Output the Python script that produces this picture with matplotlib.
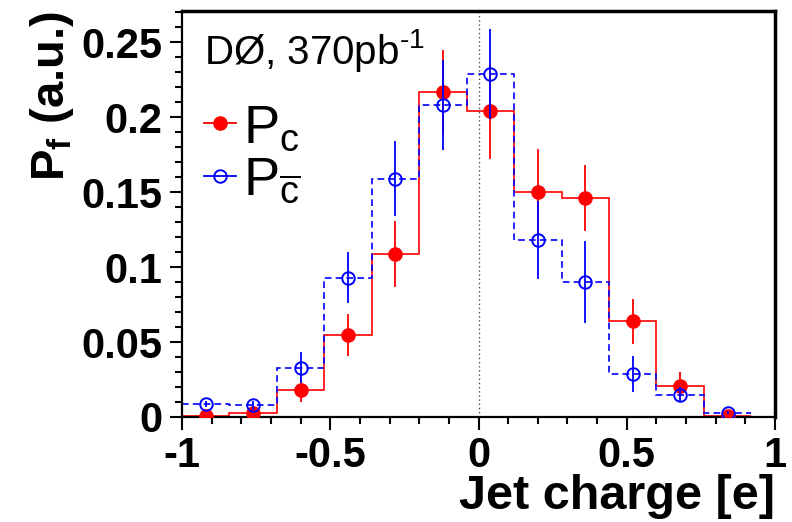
import numpy as np
import matplotlib
matplotlib.use("Agg")
import matplotlib.pyplot as plt
from matplotlib.lines import Line2D
from matplotlib.ticker import MultipleLocator

plt.rcParams["font.family"] = ["Liberation Sans", "DejaVu Sans"]
plt.rcParams["mathtext.fontset"] = "custom"
plt.rcParams["mathtext.rm"] = "Liberation Sans"
plt.rcParams["mathtext.it"] = "Liberation Sans:italic"
plt.rcParams["mathtext.bf"] = "Liberation Sans:bold"

# 12 bins of jet charge, width 0.16, from -1 to 0.92
bin_edges = np.round(np.linspace(-1.0, 0.92, 13), 2)
centers = 0.5 * (bin_edges[:-1] + bin_edges[1:])

# P_c (red, filled)
pc = [0.001, 0.0025, 0.018, 0.055, 0.109, 0.217, 0.204, 0.150, 0.146, 0.064, 0.021, 0.001]
pc_err = [0.0, 0.002, 0.008, 0.014, 0.022, 0.028, 0.032, 0.029, 0.022, 0.015, 0.009, 0.0]

# P_cbar (blue, open)
pcb = [0.009, 0.008, 0.033, 0.093, 0.159, 0.208, 0.229, 0.118, 0.090, 0.029, 0.015, 0.003]
pcb_err = [0.002, 0.003, 0.0105, 0.017, 0.025, 0.030, 0.030, 0.026, 0.0275, 0.012, 0.005, 0.001]

fig = plt.figure(figsize=(7.92, 5.22), dpi=100)
ax = fig.add_axes([182 / 792, (522 - 417) / 522, (775 - 182) / 792, (417 - 11) / 522])

# histograms
ax.stairs(pc, bin_edges, baseline=None, color="red", lw=1.2)
ax.stairs(pcb, bin_edges, baseline=None, color="blue", lw=1.2, ls=(0, (4, 2.5)))

# points with vertical errors
ax.errorbar(centers, pc, yerr=pc_err, fmt="o", color="red", ms=9.5, elinewidth=1.3,
            capsize=0, zorder=4)
ax.errorbar(centers, pcb, yerr=pcb_err, fmt="o", color="blue", mfc="none", ms=9,
            mew=1.4, elinewidth=1.3, capsize=0, zorder=5)

ax.axvline(0, color="0.3", ls=(0, (1, 2)), lw=1.0, zorder=1)

ax.set_xlim(-1, 1)
ax.set_ylim(0, 0.2707)

ax.xaxis.set_minor_locator(MultipleLocator(0.1))
ax.yaxis.set_minor_locator(MultipleLocator(0.01))
ax.set_xticks([-1, -0.5, 0, 0.5, 1])
ax.set_xticklabels(["-1", "-0.5", "0", "0.5", "1"])
ax.set_yticks([0, 0.05, 0.1, 0.15, 0.2, 0.25])
ax.set_yticklabels(["0", "0.05", "0.1", "0.15", "0.2", "0.25"])

ax.tick_params(which="both", direction="out", top=False, right=False, width=1.5,
               labelsize=30, pad=5)
ax.tick_params(which="major", length=9)
ax.tick_params(which="minor", length=5)
for lab in ax.get_xticklabels() + ax.get_yticklabels():
    lab.set_fontweight("bold")

for side in ["left", "bottom"]:
    ax.spines[side].set_linewidth(1.6)
for side in ["top", "right"]:
    ax.spines[side].set_linewidth(2.5)

ax.set_xlabel("Jet charge [e]", fontsize=35, fontweight="bold", loc="right", labelpad=-2)
ax.set_ylabel(r"$\mathbf{P_f}$ (a.u.)", fontsize=34, fontweight="bold", loc="top", labelpad=4)

ax.text(0.037, 0.87, r"DØ, 370pb$^{\text{-1}}$", transform=ax.transAxes, fontsize=29,
        ha="left", va="baseline")

handles = [
    Line2D([], [], color="red", marker="o", ms=9.5, lw=1.3),
    Line2D([], [], color="blue", marker="o", mfc="none", ms=9, mew=1.4, lw=1.3),
]
ax.legend(handles, [r"$\mathrm{P_c}$", r"$\mathrm{P_{\overline{c}}}$"], loc="upper left",
          bbox_to_anchor=(0.0, 0.826), frameon=False, fontsize=39, handlelength=0.6,
          handletextpad=0.12, labelspacing=0.05, borderaxespad=0)

fig.savefig("out.png", dpi=100)
